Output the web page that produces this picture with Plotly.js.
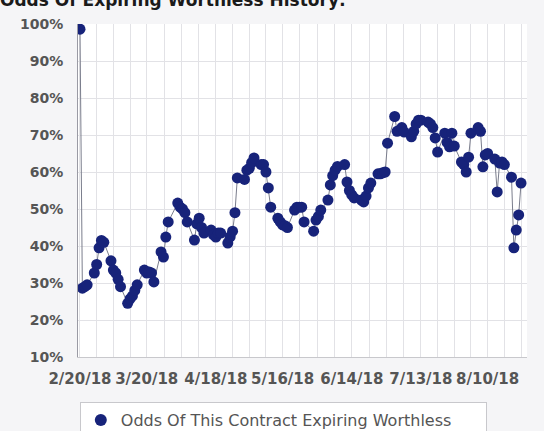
<!DOCTYPE html>
<html>
<head>
<meta charset="utf-8">
<script src="https://cdn.plot.ly/plotly-3.0.1.min.js"></script>
<style>html,body{margin:0;padding:0;background:#f5f5f7;}#chart{width:544px;height:431px;}</style>
</head>
<body>
<div id="chart"></div>
<script>
// Trading dates
var dates = [
"2018-02-20","2018-02-21","2018-02-22","2018-02-23","2018-02-26","2018-02-27","2018-02-28",
"2018-03-01","2018-03-02","2018-03-05","2018-03-06","2018-03-07","2018-03-08","2018-03-09",
"2018-03-12","2018-03-13","2018-03-14","2018-03-15","2018-03-16","2018-03-19","2018-03-20",
"2018-03-21","2018-03-22","2018-03-23","2018-03-26","2018-03-27","2018-03-28","2018-03-29",
"2018-04-02","2018-04-03","2018-04-04","2018-04-05","2018-04-06","2018-04-09","2018-04-10",
"2018-04-11","2018-04-12","2018-04-13","2018-04-16","2018-04-17","2018-04-18","2018-04-19",
"2018-04-20","2018-04-23","2018-04-24","2018-04-25","2018-04-26","2018-04-27","2018-04-30",
"2018-05-01","2018-05-02","2018-05-03","2018-05-04","2018-05-07","2018-05-08","2018-05-09",
"2018-05-10","2018-05-11","2018-05-14","2018-05-15","2018-05-16","2018-05-17","2018-05-18",
"2018-05-21","2018-05-22","2018-05-23","2018-05-24","2018-05-25","2018-05-29","2018-05-30",
"2018-05-31","2018-06-01","2018-06-04","2018-06-05","2018-06-06","2018-06-07","2018-06-08",
"2018-06-11","2018-06-12","2018-06-13","2018-06-14","2018-06-15","2018-06-18","2018-06-19",
"2018-06-20","2018-06-21","2018-06-22","2018-06-25","2018-06-26","2018-06-27","2018-06-28",
"2018-06-29","2018-07-02","2018-07-03","2018-07-05","2018-07-06","2018-07-09","2018-07-10",
"2018-07-11","2018-07-12","2018-07-13","2018-07-16","2018-07-17","2018-07-18","2018-07-19",
"2018-07-20","2018-07-23","2018-07-24","2018-07-25","2018-07-26","2018-07-27","2018-07-30",
"2018-07-31","2018-08-01","2018-08-02","2018-08-03","2018-08-06","2018-08-07","2018-08-08",
"2018-08-09","2018-08-10","2018-08-13","2018-08-14","2018-08-15","2018-08-16","2018-08-17",
"2018-08-20","2018-08-21","2018-08-22","2018-08-23","2018-08-24"
];

// Odds of expiring worthless (%)
var odds = [
98.6,28.6,29,29.5,32.7,35,39.5,
41.5,41,36,33.5,32.7,31,29,
24.5,25.7,26.5,28,29.5,33.5,32.7,
33,32.7,30.3,38.4,37,42.4,46.5,
51.6,50.5,50,49,46.5,41.6,46,
47.5,45,43.5,44.3,43,42.4,43.5,
43.5,40.8,42.5,44,49,58.4,58,
60.5,61,62.5,63.8,62,62,60,
55.7,50.5,47.5,46.5,45.7,45.5,45,
49.7,50.5,50.5,50.5,46.5,44,47,
48,49.7,52.4,56.5,59,60.5,61.5,
62,57.3,55,53.8,53,52.4,51.9,
53.5,55.7,57,59.5,59.5,59.8,60,
67.8,75,71,72,70.8,69.5,71,
73,74,74,73.5,73,72,69.2,
65.4,70.5,68,66.8,70.5,67,62.7,
62,60,64,70.5,72,71,61.4,
64.6,65,63.5,54.6,62.4,62.7,62,
58.6,39.5,44.3,48.4,57
];

var xLabelDates = ["2018-02-20","2018-03-20","2018-04-18","2018-05-16","2018-06-14","2018-07-13","2018-08-10"];
var xLabelText  = ["2/20/18","3/20/18","4/18/18","5/16/18","6/14/18","7/13/18","8/10/18"];
var yTicks = [10,20,30,40,50,60,70,80,90,100];
var yTickText = ["10%","20%","30%","40%","50%","60%","70%","80%","90%","100%"];
var seriesName = "Odds Of This Contract Expiring Worthless";
var chartTitle = "Odds Of Expiring Worthless History:";

// gridlines: each label interval split into 4, labels only at the named dates
var DAY = 86400000;
function ms(s){ return Date.parse(s + "T00:00:00Z"); }
function iso(t){ return new Date(t).toISOString().replace("T"," ").slice(0,19); }
var gridVals = [], gridText = [];
for (var k = 0; k < xLabelDates.length; k++) {
  gridVals.push(xLabelDates[k]); gridText.push(xLabelText[k]);
  var a = ms(xLabelDates[k]);
  var b = (k + 1 < xLabelDates.length) ? ms(xLabelDates[k+1]) : a + 28.5 * DAY;
  for (var q = 1; q < 4; q++) { gridVals.push(iso(a + (b - a) * q / 4)); gridText.push(""); }
}

var navy = "#17237a";
var traces = [
  {
    x: dates, y: odds, type: "scatter", mode: "lines+markers",
    line: {color: "#7a7d8c", width: 1},
    marker: {color: navy, size: 11},
    showlegend: false, hoverinfo: "skip"
  },
  {
    x: [null], y: [null], type: "scatter", mode: "markers",
    name: seriesName, marker: {color: navy, size: 12}, showlegend: true
  }
];

var font = "DejaVu Sans, Arial, sans-serif";
var layout = {
  width: 544, height: 431,
  margin: {l: 78, r: 17, t: 24, b: 74},
  paper_bgcolor: "#f5f5f7",
  plot_bgcolor: "#ffffff",
  showlegend: true,
  hovermode: false,
  title: {
    text: "<b>" + chartTitle + "</b>",
    font: {family: font, size: 17, color: "#1a1a1a"},
    x: 0.0, xanchor: "left", xref: "container",
    y: 1.0, yanchor: "middle", yref: "container"
  },
  xaxis: {
    type: "date",
    range: ["2018-02-19 04:00", "2018-08-26 12:00"],
    tickmode: "array", tickvals: gridVals, ticktext: gridText,
    tickangle: 0,
    showgrid: true, gridcolor: "#e2e2e6", gridwidth: 1,
    showline: true, linecolor: "#c8c8cc",
    ticks: "outside", ticklen: 8, tickcolor: "rgba(0,0,0,0)",
    tickfont: {family: font, size: 15, color: "#555", weight: "bold"},
    zeroline: false, fixedrange: true
  },
  yaxis: {
    range: [10, 100],
    tickmode: "array", tickvals: yTicks, ticktext: yTickText,
    showgrid: true, gridcolor: "#e2e2e6", gridwidth: 1,
    showline: true, linecolor: "#9a9aa4",
    ticks: "outside", ticklen: 11, tickcolor: "rgba(0,0,0,0)",
    tickfont: {family: font, size: 14, color: "#555", weight: "bold"},
    zeroline: false, fixedrange: true
  },
  legend: {
    orientation: "h",
    x: 0.004, xanchor: "left", xref: "paper",
    y: 0.067, yanchor: "top", yref: "container",
    bgcolor: "#ffffff", bordercolor: "#c8c8cc", borderwidth: 1,
    font: {family: font, size: 16, color: "#555"},
    entrywidth: 360, entrywidthmode: "pixels"
  }
};

Plotly.newPlot("chart", traces, layout, {displayModeBar: false, staticPlot: true});
</script>
</body>
</html>
